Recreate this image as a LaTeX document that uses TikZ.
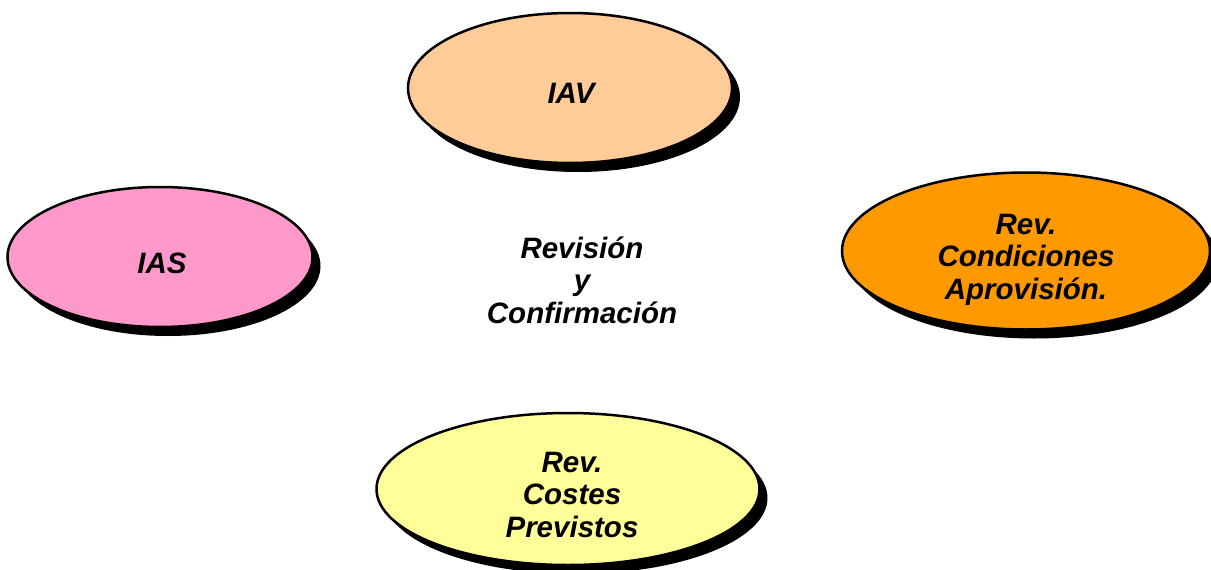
\documentclass[tikz,border=0pt]{standalone}
\usepackage{fontspec}
\setmainfont{Liberation Sans}
\usetikzlibrary{shapes.geometric,shadows}
\definecolor{peach}{HTML}{FFCC99}
\definecolor{rosa}{HTML}{FF99CC}
\definecolor{naranja}{HTML}{FF9900}
\definecolor{amarillo}{HTML}{FFFF99}
\begin{document}
\begin{tikzpicture}[x=1pt,y=-1pt,
  blob/.style={ellipse, draw=black, line width=2.5pt, inner sep=0pt,
    drop shadow={opacity=1, fill=black, shadow xshift=8pt, shadow yshift=-9pt}},
  lbl/.style={anchor=base, align=center,
    font=\fontsize{29.5}{32.5}\selectfont\bfseries\itshape}]
  \useasboundingbox (0,0) rectangle (1211,570);

  % ellipses
  \node[blob, fill=peach, minimum width=324pt, minimum height=150pt] (iav) at (570,88) {};
  \node[blob, fill=rosa, minimum width=305pt, minimum height=140pt] (ias) at (160,257) {};
  \node[blob, fill=naranja, minimum width=368pt, minimum height=157pt] (cond) at (1026,251) {};
  \node[blob, fill=amarillo, minimum width=383pt, minimum height=152pt] (cost) at (568,489) {};

  % labels
  \node[lbl] (tiav) at (571,103) {IAV};
  \node[lbl] (tias) at (162,273) {IAS};
  \node[lbl] (tcond) at (1026,299) {Rev.\\Condiciones\\Aprovisión.};
  \node[lbl] (tcost) at (572,537) {Rev.\\Costes\\Previstos};
  \node[lbl] (tcentro) at (582,323) {Revisión\\y\\Confirmación};
\end{tikzpicture}
\end{document}
